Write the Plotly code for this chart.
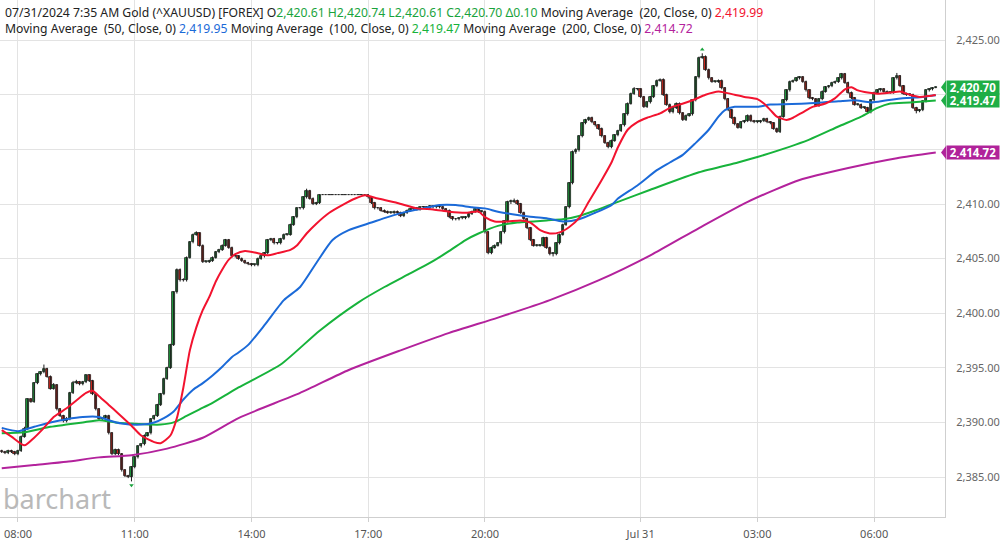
import pandas as pd
import plotly.graph_objects as go

# ---------------- data (5-minute bars, Jul 30 07:35 -> Jul 31 07:35, CT) ----------------
start_time = "2024-07-30 07:35"
n_bars = 289

opens = [
    2387.4, 2387.3, 2387.2, 2387.4, 2387.3, 2387.1, 2387.4, 2388.7, 2389.4, 2392.1, 2391.9, 2393.6,
    2394.4, 2394.6, 2394.9, 2394.2, 2393.1, 2393.4, 2391.2, 2390.6, 2390.1, 2390.3, 2392.7, 2393.6,
    2393.7, 2393.5, 2393.7, 2394.3, 2393.8, 2392.6, 2391.2, 2390.3, 2390.4, 2390.6, 2389.0, 2387.1,
    2387.5, 2387.1, 2385.6, 2385.1, 2385.0, 2385.9, 2386.8, 2387.8, 2388.0, 2388.8, 2389.0, 2390.3,
    2390.6, 2391.6, 2392.6, 2394.0, 2395.0, 2397.1, 2401.9, 2404.0, 2403.0, 2403.0, 2405.1, 2406.5,
    2407.2, 2407.3, 2406.2, 2404.7, 2404.7, 2404.8, 2405.1, 2405.6, 2405.8, 2406.2, 2406.7, 2406.0,
    2405.2, 2405.2, 2405.0, 2404.8, 2404.6, 2404.5, 2404.4, 2404.4, 2405.0, 2405.2, 2405.5, 2406.7,
    2406.8, 2406.4, 2406.4, 2406.8, 2407.2, 2407.2, 2408.1, 2408.8, 2409.6, 2409.6, 2410.6, 2411.2,
    2410.5, 2410.0, 2410.1, 2410.8, 2410.8, 2410.8, 2410.8, 2410.8, 2410.8, 2410.8, 2410.8, 2410.8,
    2410.8, 2410.8, 2410.8, 2410.8, 2410.8, 2410.8, 2410.6, 2410.1, 2409.6, 2409.6, 2409.4, 2409.3,
    2409.2, 2409.2, 2409.3, 2409.2, 2408.9, 2409.2, 2409.4, 2409.5, 2409.6, 2409.5, 2409.7, 2409.7,
    2409.6, 2409.8, 2409.7, 2409.8, 2409.7, 2409.5, 2409.4, 2408.8, 2408.6, 2408.6, 2408.7, 2408.7,
    2408.8, 2409.1, 2409.3, 2409.5, 2409.3, 2409.3, 2407.4, 2405.5, 2406.0, 2406.2, 2406.4, 2407.4,
    2408.4, 2410.2, 2410.2, 2410.3, 2410.0, 2409.2, 2408.6, 2407.8, 2406.7, 2406.2, 2406.2, 2406.2,
    2406.9, 2406.0, 2405.4, 2405.4, 2406.4, 2407.2, 2408.1, 2409.7, 2411.9, 2414.8, 2414.9, 2416.2,
    2417.4, 2417.7, 2417.9, 2417.5, 2417.2, 2416.9, 2416.2, 2415.6, 2415.2, 2415.8, 2416.3, 2416.7,
    2417.2, 2418.2, 2419.2, 2420.1, 2420.5, 2420.5, 2419.8, 2418.9, 2419.3, 2419.8, 2420.8, 2421.3,
    2421.4, 2420.0, 2419.1, 2418.4, 2418.8, 2419.2, 2418.3, 2417.7, 2418.1, 2418.2, 2419.5, 2421.6,
    2423.4, 2423.5, 2422.3, 2421.5, 2421.2, 2421.2, 2421.3, 2420.6, 2419.6, 2418.6, 2417.9, 2417.3,
    2417.0, 2417.5, 2417.6, 2418.1, 2417.6, 2417.5, 2417.5, 2417.6, 2417.8, 2417.5, 2417.4, 2416.9,
    2416.6, 2418.0, 2419.5, 2420.4, 2421.2, 2421.3, 2421.5, 2421.6, 2421.2, 2420.4, 2419.7, 2419.6,
    2419.0, 2419.6, 2420.3, 2420.7, 2420.8, 2421.1, 2421.2, 2421.5, 2421.9, 2421.1, 2420.2, 2419.7,
    2419.1, 2419.1, 2418.8, 2418.8, 2418.4, 2419.5, 2420.2, 2420.4, 2420.5, 2420.3, 2420.2, 2420.2,
    2421.5, 2421.7, 2420.8, 2420.1, 2420.0, 2420.0, 2418.8, 2418.5, 2418.6, 2419.4, 2420.4, 2420.5, 2420.61,
]
highs = [
    2387.5, 2387.4, 2387.5, 2387.5, 2387.4, 2387.5, 2388.8, 2389.6, 2392.2, 2392.2, 2393.7, 2394.5,
    2394.7, 2395.3, 2395.0, 2394.3, 2393.6, 2393.5, 2391.3, 2390.7, 2390.5, 2392.8, 2393.8, 2393.9,
    2393.8, 2393.8, 2394.4, 2394.4, 2393.9, 2392.7, 2391.3, 2390.5, 2390.7, 2390.7, 2389.1, 2387.6,
    2387.6, 2387.2, 2385.7, 2385.2, 2386.0, 2386.9, 2387.9, 2388.1, 2388.9, 2389.1, 2390.4, 2390.7,
    2391.7, 2392.7, 2394.1, 2395.1, 2397.2, 2402.0, 2404.1, 2404.1, 2403.2, 2405.2, 2406.6, 2407.3,
    2407.5, 2407.4, 2406.3, 2404.8, 2404.9, 2405.2, 2405.7, 2405.9, 2406.3, 2406.8, 2406.8, 2406.1,
    2405.3, 2405.3, 2405.1, 2404.9, 2404.7, 2404.6, 2404.5, 2405.1, 2405.3, 2405.6, 2406.8, 2406.9,
    2406.9, 2406.5, 2406.9, 2407.3, 2407.3, 2408.2, 2408.9, 2409.7, 2409.7, 2410.7, 2411.4, 2411.3,
    2410.6, 2410.2, 2410.9, 2410.8, 2410.8, 2410.8, 2410.8, 2410.8, 2410.8, 2410.8, 2410.8, 2410.8,
    2410.8, 2410.8, 2410.8, 2410.8, 2410.8, 2410.9, 2410.7, 2410.2, 2409.7, 2409.7, 2409.5, 2409.4,
    2409.3, 2409.4, 2409.4, 2409.3, 2409.3, 2409.5, 2409.6, 2409.7, 2409.7, 2409.8, 2409.8, 2409.8,
    2409.9, 2409.9, 2409.9, 2409.9, 2409.8, 2409.6, 2409.5, 2408.9, 2408.7, 2408.8, 2408.8, 2408.9,
    2409.2, 2409.4, 2409.6, 2409.6, 2409.4, 2409.4, 2407.5, 2406.1, 2406.3, 2406.5, 2407.5, 2408.5,
    2410.3, 2410.4, 2410.5, 2410.4, 2410.1, 2409.3, 2408.7, 2407.9, 2406.8, 2406.3, 2406.3, 2407.0,
    2407.0, 2406.1, 2405.6, 2406.5, 2407.3, 2408.2, 2409.8, 2412.0, 2414.9, 2415.1, 2416.3, 2417.5,
    2417.8, 2418.0, 2418.0, 2417.6, 2417.3, 2417.0, 2416.3, 2415.7, 2415.9, 2416.4, 2416.8, 2417.3,
    2418.3, 2419.3, 2420.2, 2420.7, 2420.6, 2420.6, 2419.9, 2419.4, 2419.9, 2420.9, 2421.4, 2421.5,
    2421.5, 2420.1, 2419.2, 2418.9, 2419.3, 2419.3, 2418.4, 2418.2, 2418.3, 2419.6, 2421.7, 2423.5,
    2423.8, 2423.6, 2422.4, 2421.6, 2421.3, 2421.4, 2421.4, 2420.7, 2419.7, 2418.7, 2418.0, 2417.4,
    2417.6, 2417.7, 2418.2, 2418.2, 2417.7, 2417.6, 2417.7, 2417.9, 2417.9, 2417.6, 2417.5, 2417.0,
    2418.1, 2419.6, 2420.5, 2421.3, 2421.4, 2421.6, 2421.7, 2421.7, 2421.3, 2420.5, 2419.8, 2419.7,
    2419.7, 2420.4, 2420.8, 2420.9, 2421.2, 2421.3, 2421.6, 2422.0, 2422.0, 2421.2, 2420.3, 2419.8,
    2419.2, 2419.2, 2418.9, 2418.9, 2419.6, 2420.3, 2420.5, 2420.6, 2420.6, 2420.4, 2420.3, 2421.6,
    2422.0, 2421.8, 2420.9, 2420.2, 2420.1, 2420.1, 2418.9, 2418.7, 2419.5, 2420.5, 2420.6, 2420.7, 2420.74,
]
lows = [
    2387.2, 2387.1, 2387.1, 2387.2, 2387.0, 2387.0, 2387.3, 2388.6, 2389.3, 2391.8, 2391.8, 2393.5,
    2394.3, 2394.5, 2394.1, 2393.0, 2393.0, 2391.1, 2390.5, 2390.0, 2390.0, 2390.2, 2392.6, 2393.5,
    2393.4, 2393.4, 2393.6, 2393.7, 2392.5, 2391.1, 2390.2, 2390.2, 2390.3, 2388.9, 2387.0, 2387.0,
    2387.0, 2385.5, 2385.0, 2384.9, 2384.6, 2385.8, 2386.7, 2387.7, 2387.9, 2388.7, 2388.9, 2390.2,
    2390.5, 2391.5, 2392.5, 2393.9, 2394.9, 2397.0, 2401.8, 2402.9, 2402.9, 2402.9, 2405.0, 2406.4,
    2407.1, 2406.1, 2404.6, 2404.6, 2404.6, 2404.7, 2405.0, 2405.5, 2405.7, 2406.1, 2405.9, 2405.1,
    2405.1, 2404.9, 2404.7, 2404.5, 2404.4, 2404.3, 2404.3, 2404.3, 2404.9, 2405.1, 2405.4, 2406.6,
    2406.3, 2406.3, 2406.3, 2406.7, 2407.1, 2407.1, 2408.0, 2408.7, 2409.5, 2409.5, 2410.5, 2410.4,
    2409.9, 2409.9, 2410.0, 2410.8, 2410.8, 2410.8, 2410.8, 2410.8, 2410.8, 2410.8, 2410.8, 2410.8,
    2410.8, 2410.8, 2410.8, 2410.8, 2410.8, 2410.5, 2410.0, 2409.5, 2409.5, 2409.3, 2409.2, 2409.1,
    2409.1, 2409.1, 2409.1, 2408.8, 2408.8, 2409.1, 2409.3, 2409.4, 2409.4, 2409.4, 2409.6, 2409.5,
    2409.5, 2409.6, 2409.6, 2409.6, 2409.4, 2409.3, 2408.7, 2408.5, 2408.5, 2408.5, 2408.6, 2408.6,
    2408.7, 2409.0, 2409.2, 2409.2, 2409.2, 2407.3, 2405.4, 2405.4, 2405.9, 2406.1, 2406.3, 2407.3,
    2408.3, 2410.0, 2410.1, 2409.9, 2409.1, 2408.5, 2407.7, 2406.6, 2406.1, 2406.1, 2406.1, 2406.1,
    2405.9, 2405.3, 2405.2, 2405.3, 2406.3, 2407.1, 2408.0, 2409.6, 2411.8, 2414.6, 2414.8, 2416.1,
    2417.3, 2417.6, 2417.4, 2417.1, 2416.8, 2416.1, 2415.5, 2415.1, 2415.1, 2415.7, 2416.2, 2416.6,
    2417.1, 2418.1, 2419.1, 2420.0, 2420.4, 2419.7, 2418.8, 2418.8, 2419.2, 2419.7, 2420.7, 2421.2,
    2419.9, 2419.0, 2418.3, 2418.3, 2418.7, 2418.2, 2417.6, 2417.6, 2418.0, 2418.1, 2419.4, 2421.5,
    2423.3, 2422.2, 2421.4, 2421.1, 2421.1, 2421.1, 2420.5, 2419.5, 2418.5, 2417.8, 2417.2, 2416.9,
    2416.9, 2417.4, 2417.5, 2417.5, 2417.4, 2417.4, 2417.4, 2417.5, 2417.4, 2417.3, 2416.8, 2416.5,
    2416.5, 2417.9, 2419.4, 2420.3, 2421.1, 2421.2, 2421.4, 2421.1, 2420.3, 2419.6, 2419.5, 2418.9,
    2418.9, 2419.5, 2420.2, 2420.6, 2420.7, 2421.0, 2421.1, 2421.4, 2421.0, 2420.1, 2419.6, 2419.0,
    2419.0, 2418.7, 2418.7, 2418.3, 2418.3, 2419.4, 2420.1, 2420.3, 2420.2, 2420.1, 2420.1, 2420.1,
    2421.4, 2420.7, 2420.0, 2419.9, 2419.9, 2418.7, 2418.3, 2418.4, 2418.5, 2419.3, 2420.3, 2420.4, 2420.61,
]
closes = [
    2387.3, 2387.2, 2387.4, 2387.3, 2387.1, 2387.4, 2388.7, 2389.4, 2392.1, 2391.9, 2393.6, 2394.4,
    2394.6, 2394.9, 2394.2, 2393.1, 2393.4, 2391.2, 2390.6, 2390.1, 2390.3, 2392.7, 2393.6, 2393.7,
    2393.5, 2393.7, 2394.3, 2393.8, 2392.6, 2391.2, 2390.3, 2390.4, 2390.6, 2389.0, 2387.1, 2387.5,
    2387.1, 2385.6, 2385.1, 2385.0, 2385.9, 2386.8, 2387.8, 2388.0, 2388.8, 2389.0, 2390.3, 2390.6,
    2391.6, 2392.6, 2394.0, 2395.0, 2397.1, 2401.9, 2404.0, 2403.0, 2403.0, 2405.1, 2406.5, 2407.2,
    2407.3, 2406.2, 2404.7, 2404.7, 2404.8, 2405.1, 2405.6, 2405.8, 2406.2, 2406.7, 2406.0, 2405.2,
    2405.2, 2405.0, 2404.8, 2404.6, 2404.5, 2404.4, 2404.4, 2405.0, 2405.2, 2405.5, 2406.7, 2406.8,
    2406.4, 2406.4, 2406.8, 2407.2, 2407.2, 2408.1, 2408.8, 2409.6, 2409.6, 2410.6, 2411.2, 2410.5,
    2410.0, 2410.1, 2410.8, 2410.8, 2410.8, 2410.8, 2410.8, 2410.8, 2410.8, 2410.8, 2410.8, 2410.8,
    2410.8, 2410.8, 2410.8, 2410.8, 2410.8, 2410.6, 2410.1, 2409.6, 2409.6, 2409.4, 2409.3, 2409.2,
    2409.2, 2409.3, 2409.2, 2408.9, 2409.2, 2409.4, 2409.5, 2409.6, 2409.5, 2409.7, 2409.7, 2409.6,
    2409.8, 2409.7, 2409.8, 2409.7, 2409.5, 2409.4, 2408.8, 2408.6, 2408.6, 2408.7, 2408.7, 2408.8,
    2409.1, 2409.3, 2409.5, 2409.3, 2409.3, 2407.4, 2405.5, 2406.0, 2406.2, 2406.4, 2407.4, 2408.4,
    2410.2, 2410.2, 2410.3, 2410.0, 2409.2, 2408.6, 2407.8, 2406.7, 2406.2, 2406.2, 2406.2, 2406.9,
    2406.0, 2405.4, 2405.4, 2406.4, 2407.2, 2408.1, 2409.7, 2411.9, 2414.8, 2414.9, 2416.2, 2417.4,
    2417.7, 2417.9, 2417.5, 2417.2, 2416.9, 2416.2, 2415.6, 2415.2, 2415.8, 2416.3, 2416.7, 2417.2,
    2418.2, 2419.2, 2420.1, 2420.5, 2420.5, 2419.8, 2418.9, 2419.3, 2419.8, 2420.8, 2421.3, 2421.4,
    2420.0, 2419.1, 2418.4, 2418.8, 2419.2, 2418.3, 2417.7, 2418.1, 2418.2, 2419.5, 2421.6, 2423.4,
    2423.5, 2422.3, 2421.5, 2421.2, 2421.2, 2421.3, 2420.6, 2419.6, 2418.6, 2417.9, 2417.3, 2417.0,
    2417.5, 2417.6, 2418.1, 2417.6, 2417.5, 2417.5, 2417.6, 2417.8, 2417.5, 2417.4, 2416.9, 2416.6,
    2418.0, 2419.5, 2420.4, 2421.2, 2421.3, 2421.5, 2421.6, 2421.2, 2420.4, 2419.7, 2419.6, 2419.0,
    2419.6, 2420.3, 2420.7, 2420.8, 2421.1, 2421.2, 2421.5, 2421.9, 2421.1, 2420.2, 2419.7, 2419.1,
    2419.1, 2418.8, 2418.8, 2418.4, 2419.5, 2420.2, 2420.4, 2420.5, 2420.3, 2420.2, 2420.2, 2421.5,
    2421.7, 2420.8, 2420.1, 2420.0, 2420.0, 2418.8, 2418.5, 2418.6, 2419.4, 2420.4, 2420.5, 2420.61, 2420.70,
]

# Moving averages: (bar index, value)
ma20_idx = [0, 3, 7, 10, 13, 16, 20, 23, 26, 28, 30, 33, 36, 40, 43, 47, 49, 52, 54, 56, 58, 60, 62, 64,
            66, 68, 70, 72, 75, 79, 82, 85, 89, 91, 94, 97, 101, 105, 109, 112, 116, 122, 128, 133, 138,
            143, 147, 149, 152, 156, 160, 163, 166, 169, 172, 175, 178, 181, 185, 188, 190, 193, 196, 199,
            203, 206, 209, 213, 217, 221, 223, 226, 229, 233, 235, 237, 239, 242, 244, 247, 250, 254, 257,
            260, 262, 264, 267, 270, 274, 277, 280, 283, 286, 288]
ma20_val = [2389.3, 2388.7, 2387.9, 2388.6, 2389.5, 2390.5, 2391.3, 2392.0, 2392.7, 2392.9, 2392.4, 2391.6,
            2390.8, 2389.7, 2388.8, 2388.2, 2388.1, 2388.8, 2390.4, 2393.2, 2396.6, 2398.7, 2400.3, 2401.5,
            2402.9, 2404.0, 2404.9, 2405.4, 2405.7, 2405.5, 2405.3, 2405.5, 2405.8, 2406.2, 2407.3, 2408.2,
            2409.2, 2409.9, 2410.5, 2410.8, 2410.5, 2410.1, 2409.6, 2409.5, 2409.3, 2409.2, 2409.3, 2408.8,
            2408.4, 2408.4, 2408.5, 2408.3, 2407.6, 2407.3, 2407.4, 2407.9, 2408.7, 2410.2, 2412.2, 2413.8,
            2415.2, 2416.8, 2417.5, 2417.9, 2418.3, 2418.8, 2419.1, 2419.5, 2420.0, 2420.3, 2420.2, 2420.0,
            2419.8, 2419.6, 2419.2, 2418.6, 2418.0, 2417.7, 2417.9, 2418.4, 2418.9, 2419.2, 2419.7, 2420.5,
            2420.7, 2420.4, 2420.2, 2420.1, 2420.2, 2420.3, 2420.0, 2419.8, 2419.9, 2419.99]

ma50_idx = [0, 5, 10, 15, 20, 25, 30, 33, 37, 43, 47, 50, 53, 56, 59, 62, 65, 68, 71, 73, 76, 81, 87, 92,
            97, 102, 107, 114, 119, 125, 130, 135, 140, 145, 149, 153, 159, 164, 168, 173, 178, 183, 188,
            190, 196, 202, 206, 210, 214, 218, 221, 223, 226, 233, 237, 248, 258, 263, 268, 273, 279, 284, 288]
ma50_val = [2389.5, 2389.2, 2389.6, 2390.0, 2390.3, 2390.5, 2390.5, 2390.2, 2389.9, 2389.8, 2390.0, 2390.4,
            2391.0, 2392.1, 2393.0, 2393.6, 2394.3, 2395.1, 2396.0, 2396.4, 2397.1, 2398.9, 2401.2, 2402.4,
            2404.6, 2406.7, 2407.6, 2408.3, 2408.8, 2409.3, 2409.6, 2409.9, 2409.9, 2409.7, 2409.6, 2409.3,
            2409.0, 2408.8, 2408.7, 2408.4, 2408.6, 2409.2, 2409.9, 2410.5, 2411.7, 2413.1, 2413.8, 2414.5,
            2415.6, 2416.8, 2418.0, 2418.6, 2418.9, 2418.9, 2419.1, 2419.2, 2419.4, 2419.5, 2419.3, 2419.5,
            2419.7, 2419.8, 2419.95]

ma100_idx = [0, 7, 15, 20, 25, 30, 35, 40, 46, 49, 53, 57, 61, 65, 69, 73, 86, 98, 110, 118, 125, 132, 138,
             143, 147, 153, 159, 164, 168, 173, 178, 183, 190, 200, 215, 227, 233, 249, 258, 265, 270, 274, 280, 288]
ma100_val = [2389.0, 2389.1, 2389.6, 2389.8, 2390.0, 2390.2, 2390.0, 2389.9, 2389.8, 2389.8, 2390.0, 2390.6,
             2391.2, 2391.8, 2392.5, 2393.2, 2395.3, 2398.4, 2401.0, 2402.4, 2403.5, 2404.6, 2405.7, 2406.7,
             2407.3, 2408.0, 2408.3, 2408.4, 2408.5, 2408.6, 2408.9, 2409.4, 2410.2, 2411.3, 2412.9, 2413.8,
             2414.3, 2415.9, 2417.1, 2418.0, 2418.8, 2419.2, 2419.3, 2419.47]

ma200_idx = [0, 10, 20, 30, 40, 51, 62, 73, 92, 107, 123, 138, 153, 169, 184, 200, 215, 230, 246, 261, 276, 288]
ma200_val = [2385.8, 2386.1, 2386.4, 2386.8, 2387.0, 2387.6, 2388.6, 2390.4, 2392.7, 2394.8, 2396.6, 2398.2,
             2399.6, 2401.2, 2403.0, 2405.3, 2407.8, 2410.2, 2412.2, 2413.3, 2414.2, 2414.72]

# session extremes flagged on the chart (bar index, price)
day_high = (216, 2423.8)
day_low = (40, 2384.6)

y_ticks = [2385, 2390, 2395, 2400, 2405, 2410, 2415, 2420, 2425]
y_tick_labels = ["2,385.00", "2,390.00", "2,395.00", "2,400.00", "2,405.00", "2,410.00", "", "", "2,425.00"]
x_tick_times = ["2024-07-30 08:00", "2024-07-30 11:00", "2024-07-30 14:00", "2024-07-30 17:00",
                "2024-07-30 20:00", "2024-07-31 00:00", "2024-07-31 03:00", "2024-07-31 06:00"]
x_tick_labels = ["08:00", "11:00", "14:00", "17:00", "20:00", "Jul 31", "03:00", "06:00"]

# ---------------- colours ----------------
UP_FILL = "#1f9e3e"
DN_FILL = "#d8281d"
OUTLINE = "#1c1c1c"
C_MA20 = "#f2132f"
C_MA50 = "#1b6ad8"
C_MA100 = "#17b33b"
C_MA200 = "#b3229c"
C_VAL = "#19a33c"
GRID = "#e3e3e3"

times = pd.date_range(start_time, periods=n_bars, freq="5min")

def t_of(idx_list):
    return [times[i] for i in idx_list]

fig = go.Figure()

# wicks
wx, wy = [], []
for t, h, l in zip(times, highs, lows):
    wx += [t, t, None]
    wy += [l, h, None]
fig.add_trace(go.Scatter(x=wx, y=wy, mode="lines", line=dict(color=OUTLINE, width=1),
                         showlegend=False, hoverinfo="skip"))

# bodies
body_base = [min(o, c) for o, c in zip(opens, closes)]
body_len = [max(abs(c - o), 0.07) for o, c in zip(opens, closes)]
body_col = [UP_FILL if c >= o else DN_FILL for o, c in zip(opens, closes)]
fig.add_trace(go.Bar(x=times, y=body_len, base=body_base, width=230000,
                     marker=dict(color=body_col, line=dict(color=OUTLINE, width=0.8)),
                     showlegend=False, hoverinfo="skip"))

for idx, val, col in [(ma200_idx, ma200_val, C_MA200), (ma100_idx, ma100_val, C_MA100),
                      (ma50_idx, ma50_val, C_MA50), (ma20_idx, ma20_val, C_MA20)]:
    fig.add_trace(go.Scatter(x=t_of(idx), y=val, mode="lines",
                             line=dict(color=col, width=2, shape="spline", smoothing=0.6),
                             showlegend=False, hoverinfo="skip"))

fig.add_trace(go.Scatter(x=[times[day_high[0]], times[day_low[0]]],
                         y=[day_high[1] + 0.35, day_low[1] - 0.35], mode="markers",
                         marker=dict(symbol=["triangle-up", "triangle-down"], size=4, color=C_VAL),
                         showlegend=False, hoverinfo="skip"))

# header text
line1 = ("07/31/2024 7:35 AM Gold (^XAUUSD) [FOREX] O"
         f"<span style='color:{C_VAL}'>2,420.61 H2,420.74 L2,420.61 C2,420.70 Δ0.10</span>"
         " Moving Average  (20, Close, 0) "
         f"<span style='color:{C_MA20}'>2,419.99</span>")
line2 = ("Moving Average  (50, Close, 0) "
         f"<span style='color:{C_MA50}'>2,419.95</span>"
         " Moving Average  (100, Close, 0) "
         f"<span style='color:{C_MA100}'>2,419.47</span>"
         " Moving Average  (200, Close, 0) "
         f"<span style='color:{C_MA200}'>2,414.72</span>")

annotations = [
    dict(text=line1, xref="paper", yref="paper", x=0, y=1, xanchor="left", yanchor="top",
         xshift=3, yshift=-2, showarrow=False, font=dict(family="Noto Sans", size=12.2, color="#222")),
    dict(text=line2, xref="paper", yref="paper", x=0, y=1, xanchor="left", yanchor="top",
         xshift=3, yshift=-18, showarrow=False, font=dict(family="Noto Sans", size=12.2, color="#222")),
    dict(text="barchart", xref="paper", yref="paper", x=0, y=0, xanchor="left", yanchor="bottom",
         xshift=1, yshift=-2, showarrow=False,
         font=dict(family="Noto Sans", size=27, color="#b9b9b9")),
]

# last-value labels on the price axis
for val, col in [(2420.70, "#1fae46"), (2419.47, "#1fae46"), (2414.72, "#b0239a")]:
    annotations.append(dict(text=f"<b>{val:,.2f}</b>", xref="paper", yref="y", x=1, y=val,
                            xanchor="left", yanchor="middle", xshift=1, showarrow=False,
                            bgcolor=col, width=50, height=11, borderpad=1,
                            font=dict(family="Noto Sans", size=11.5, color="white")))

shapes = []
for val, col in [(2420.70, "#1fae46"), (2419.47, "#1fae46"), (2414.72, "#b0239a")]:
    dx = 5 / 947
    shapes.append(dict(type="path", xref="paper", yref="y",
                       path=f"M {1 + 1/947} {val + 0.6} L {1 - dx + 1/947} {val} L {1 + 1/947} {val - 0.6} Z",
                       fillcolor=col, line=dict(width=0), layer="above"))

fig.update_layout(
    width=1000, height=541,
    margin=dict(l=0, r=53, t=0, b=24),
    paper_bgcolor="white", plot_bgcolor="white",
    barmode="overlay", bargap=0,
    annotations=annotations, shapes=shapes,
    xaxis=dict(range=["2024-07-30 07:32:18", "2024-07-31 07:49:14"],
               tickvals=x_tick_times, ticktext=x_tick_labels,
               showgrid=True, gridcolor=GRID, gridwidth=1,
               showline=True, linecolor="#cfcfcf", linewidth=1, mirror=False,
               ticks="outside", ticklen=4, tickcolor="#cfcfcf", ticklabelstandoff=3,
               tickfont=dict(family="Noto Sans", size=11, color="#555"), zeroline=False),
    yaxis=dict(side="right", range=[2381.34, 2428.68], tickvals=y_ticks, ticktext=y_tick_labels,
               showgrid=True, gridcolor=GRID, gridwidth=1,
               showline=True, linecolor="#cfcfcf", linewidth=1,
               ticks="", ticklabelstandoff=8,
               tickfont=dict(family="Noto Sans", size=11, color="#666"), zeroline=False),
)

fig.write_html("out.html")
